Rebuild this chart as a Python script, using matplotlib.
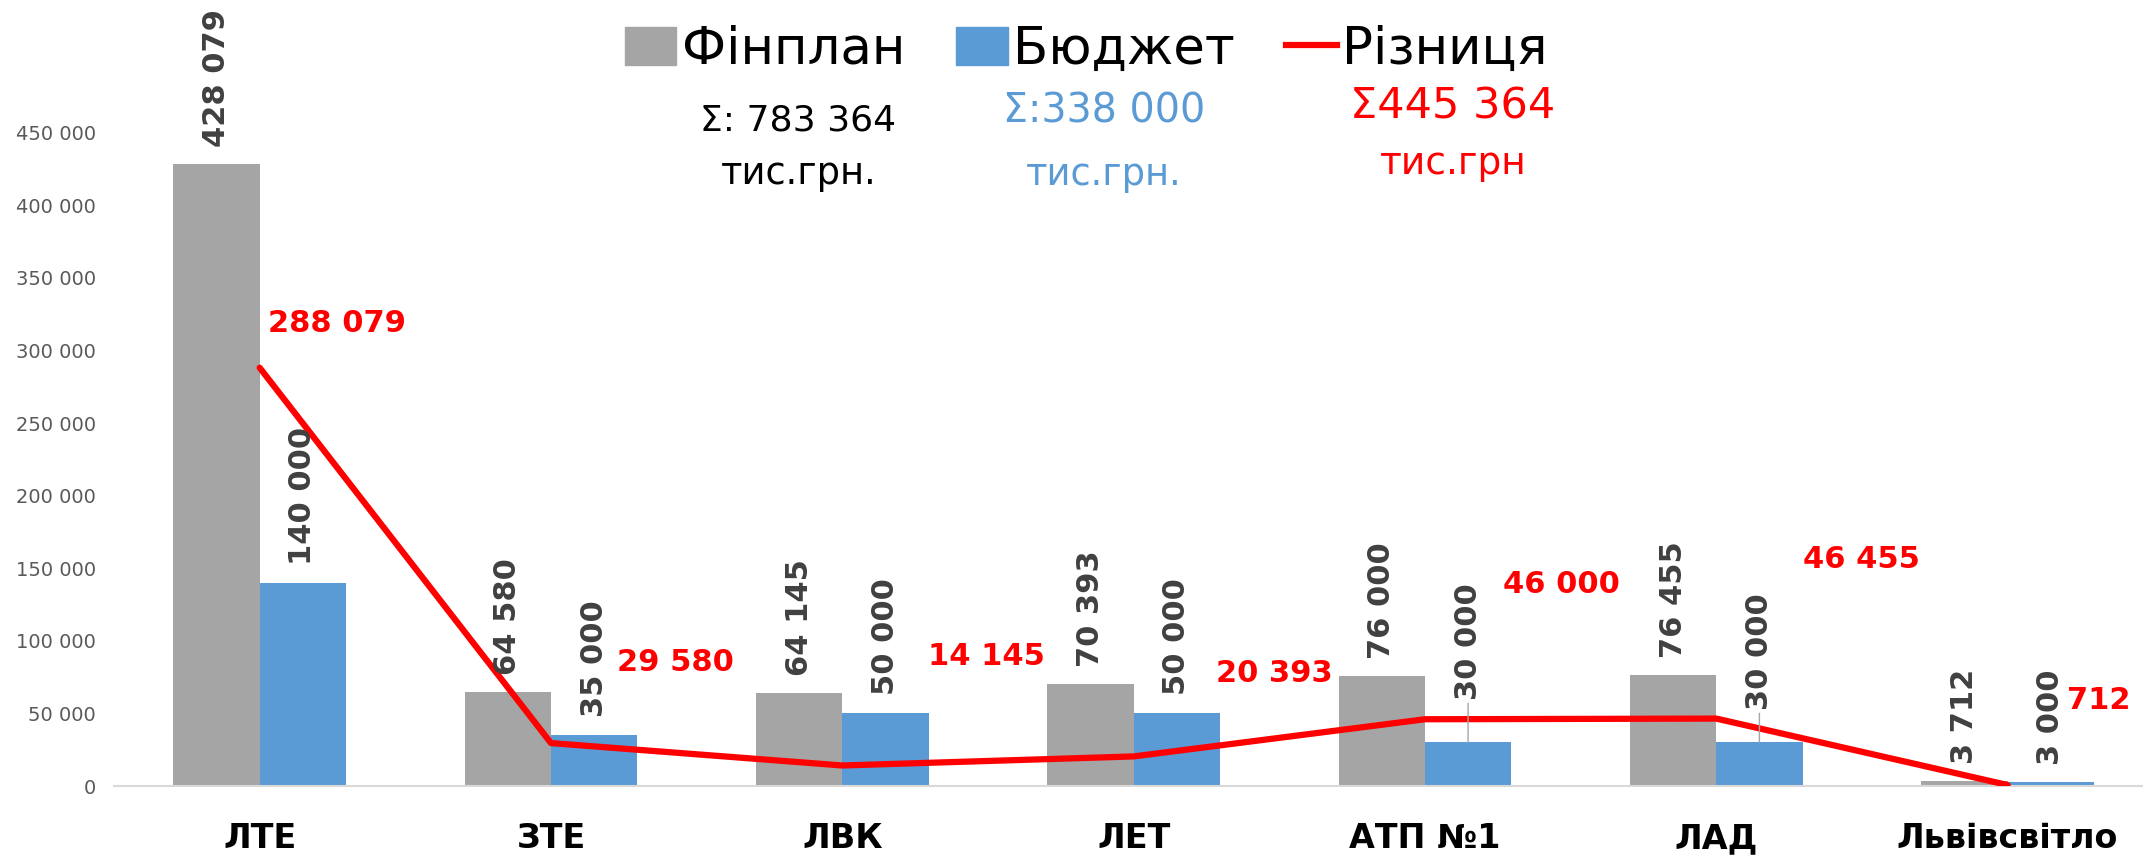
import numpy as np
import matplotlib
matplotlib.use('Agg')
import matplotlib.pyplot as plt
from matplotlib.patches import Patch
from matplotlib.lines import Line2D

# дані
categories = ['ЛТЕ', 'ЗТЕ', 'ЛВК', 'ЛЕТ', 'АТП №1', 'ЛАД', 'Львівсвітло']
finplan = [428079, 64580, 64145, 70393, 76000, 76455, 3712]
budget = [140000, 35000, 50000, 50000, 30000, 30000, 3000]
diff = [288079, 29580, 14145, 20393, 46000, 46455, 712]
yticks = [0, 50000, 100000, 150000, 200000, 250000, 300000, 350000, 400000, 450000]

def fmt(v):
    return f'{v:,}'.replace(',', ' ')

grey = '#A5A5A5'
blue = '#5B9BD5'
red = '#FF0000'

plt.rcParams['font.family'] = ['DejaVu Sans']

fig = plt.figure(figsize=(21.43, 8.6), dpi=100)
ax = fig.add_axes([0.0532, 0.086, 0.9516, 0.7598])

x = np.arange(len(categories))
w = 0.296
ax.bar(x - w / 2, finplan, w, color=grey)
ax.bar(x + w / 2, budget, w, color=blue)
ax.plot(x, diff, color=red, lw=4.5, solid_capstyle='round', zorder=3)

# підписи стовпців
for i in range(len(x)):
    ax.annotate(fmt(finplan[i]), xy=(x[i] - w / 2, finplan[i]), xytext=(0, 17),
                textcoords='offset pixels', rotation=90, ha='center', va='bottom',
                fontsize=22, fontweight='bold', color='#404040')

blue_off = [18, 18, 18, 18, 42, 32, 17]
for i in range(len(x)):
    arrow = None
    if blue_off[i] > 25:
        arrow = dict(arrowstyle='-', color='#A5A5A5', lw=1, shrinkA=0, shrinkB=0)
    ax.annotate(fmt(budget[i]), xy=(x[i] + w / 2, budget[i]), xytext=(0, blue_off[i]),
                textcoords='offset pixels', rotation=90, ha='center', va='bottom',
                fontsize=22, fontweight='bold', color='#404040', arrowprops=arrow)

# підписи різниці
red_off = [(8, 44), (66, 81), (86, 109), (82, 83), (78, 135), (87, 159), (59, 85)]
for i in range(len(x)):
    ax.annotate(fmt(diff[i]), xy=(x[i], diff[i]), xytext=red_off[i],
                textcoords='offset pixels', ha='left', va='center',
                fontsize=22, fontweight='bold', color=red)

ax.set_xlim(-0.5, len(x) - 0.5)
ax.set_ylim(0, 450000)
ax.set_yticks(yticks)
ax.set_yticklabels([fmt(v) for v in yticks], fontsize=14, color='#595959')
ax.set_xticks(x)
ax.set_xticklabels(categories, fontsize=24, fontweight='bold', color='black')
ax.tick_params(axis='x', length=0, pad=26)
ax.tick_params(axis='y', length=0, pad=13)
for s in ['top', 'right', 'left']:
    ax.spines[s].set_visible(False)
ax.spines['bottom'].set_color('#D9D9D9')
ax.spines['bottom'].set_linewidth(1.5)

# легенда
handles = [Patch(color=grey), Patch(color=blue), Line2D([0], [0], color=red, lw=4.5)]
fig.legend(handles, ['Фінплан', 'Бюджет', 'Різниця'], loc='upper center',
           bbox_to_anchor=(0.507, 1.025), ncol=3, frameon=False, fontsize=37,
           handlelength=1.0, handleheight=0.75, handletextpad=0.1, columnspacing=1.0)

# суми
fig.text(0.3725, 0.860, 'Σ: 783 364', ha='center', va='center', fontsize=26, color='black')
fig.text(0.3725, 0.798, 'тис.грн.', ha='center', va='center', fontsize=26.5, color='black')
fig.text(0.515, 0.870, 'Σ:338 000', ha='center', va='center', fontsize=28.5, color=blue)
fig.text(0.515, 0.797, 'тис.грн.', ha='center', va='center', fontsize=26.5, color=blue)
fig.text(0.678, 0.876, 'Σ445 364', ha='center', va='center', fontsize=31, color=red)
fig.text(0.678, 0.809, 'тис.грн', ha='center', va='center', fontsize=27, color=red)

fig.savefig('out.png', dpi=100)
